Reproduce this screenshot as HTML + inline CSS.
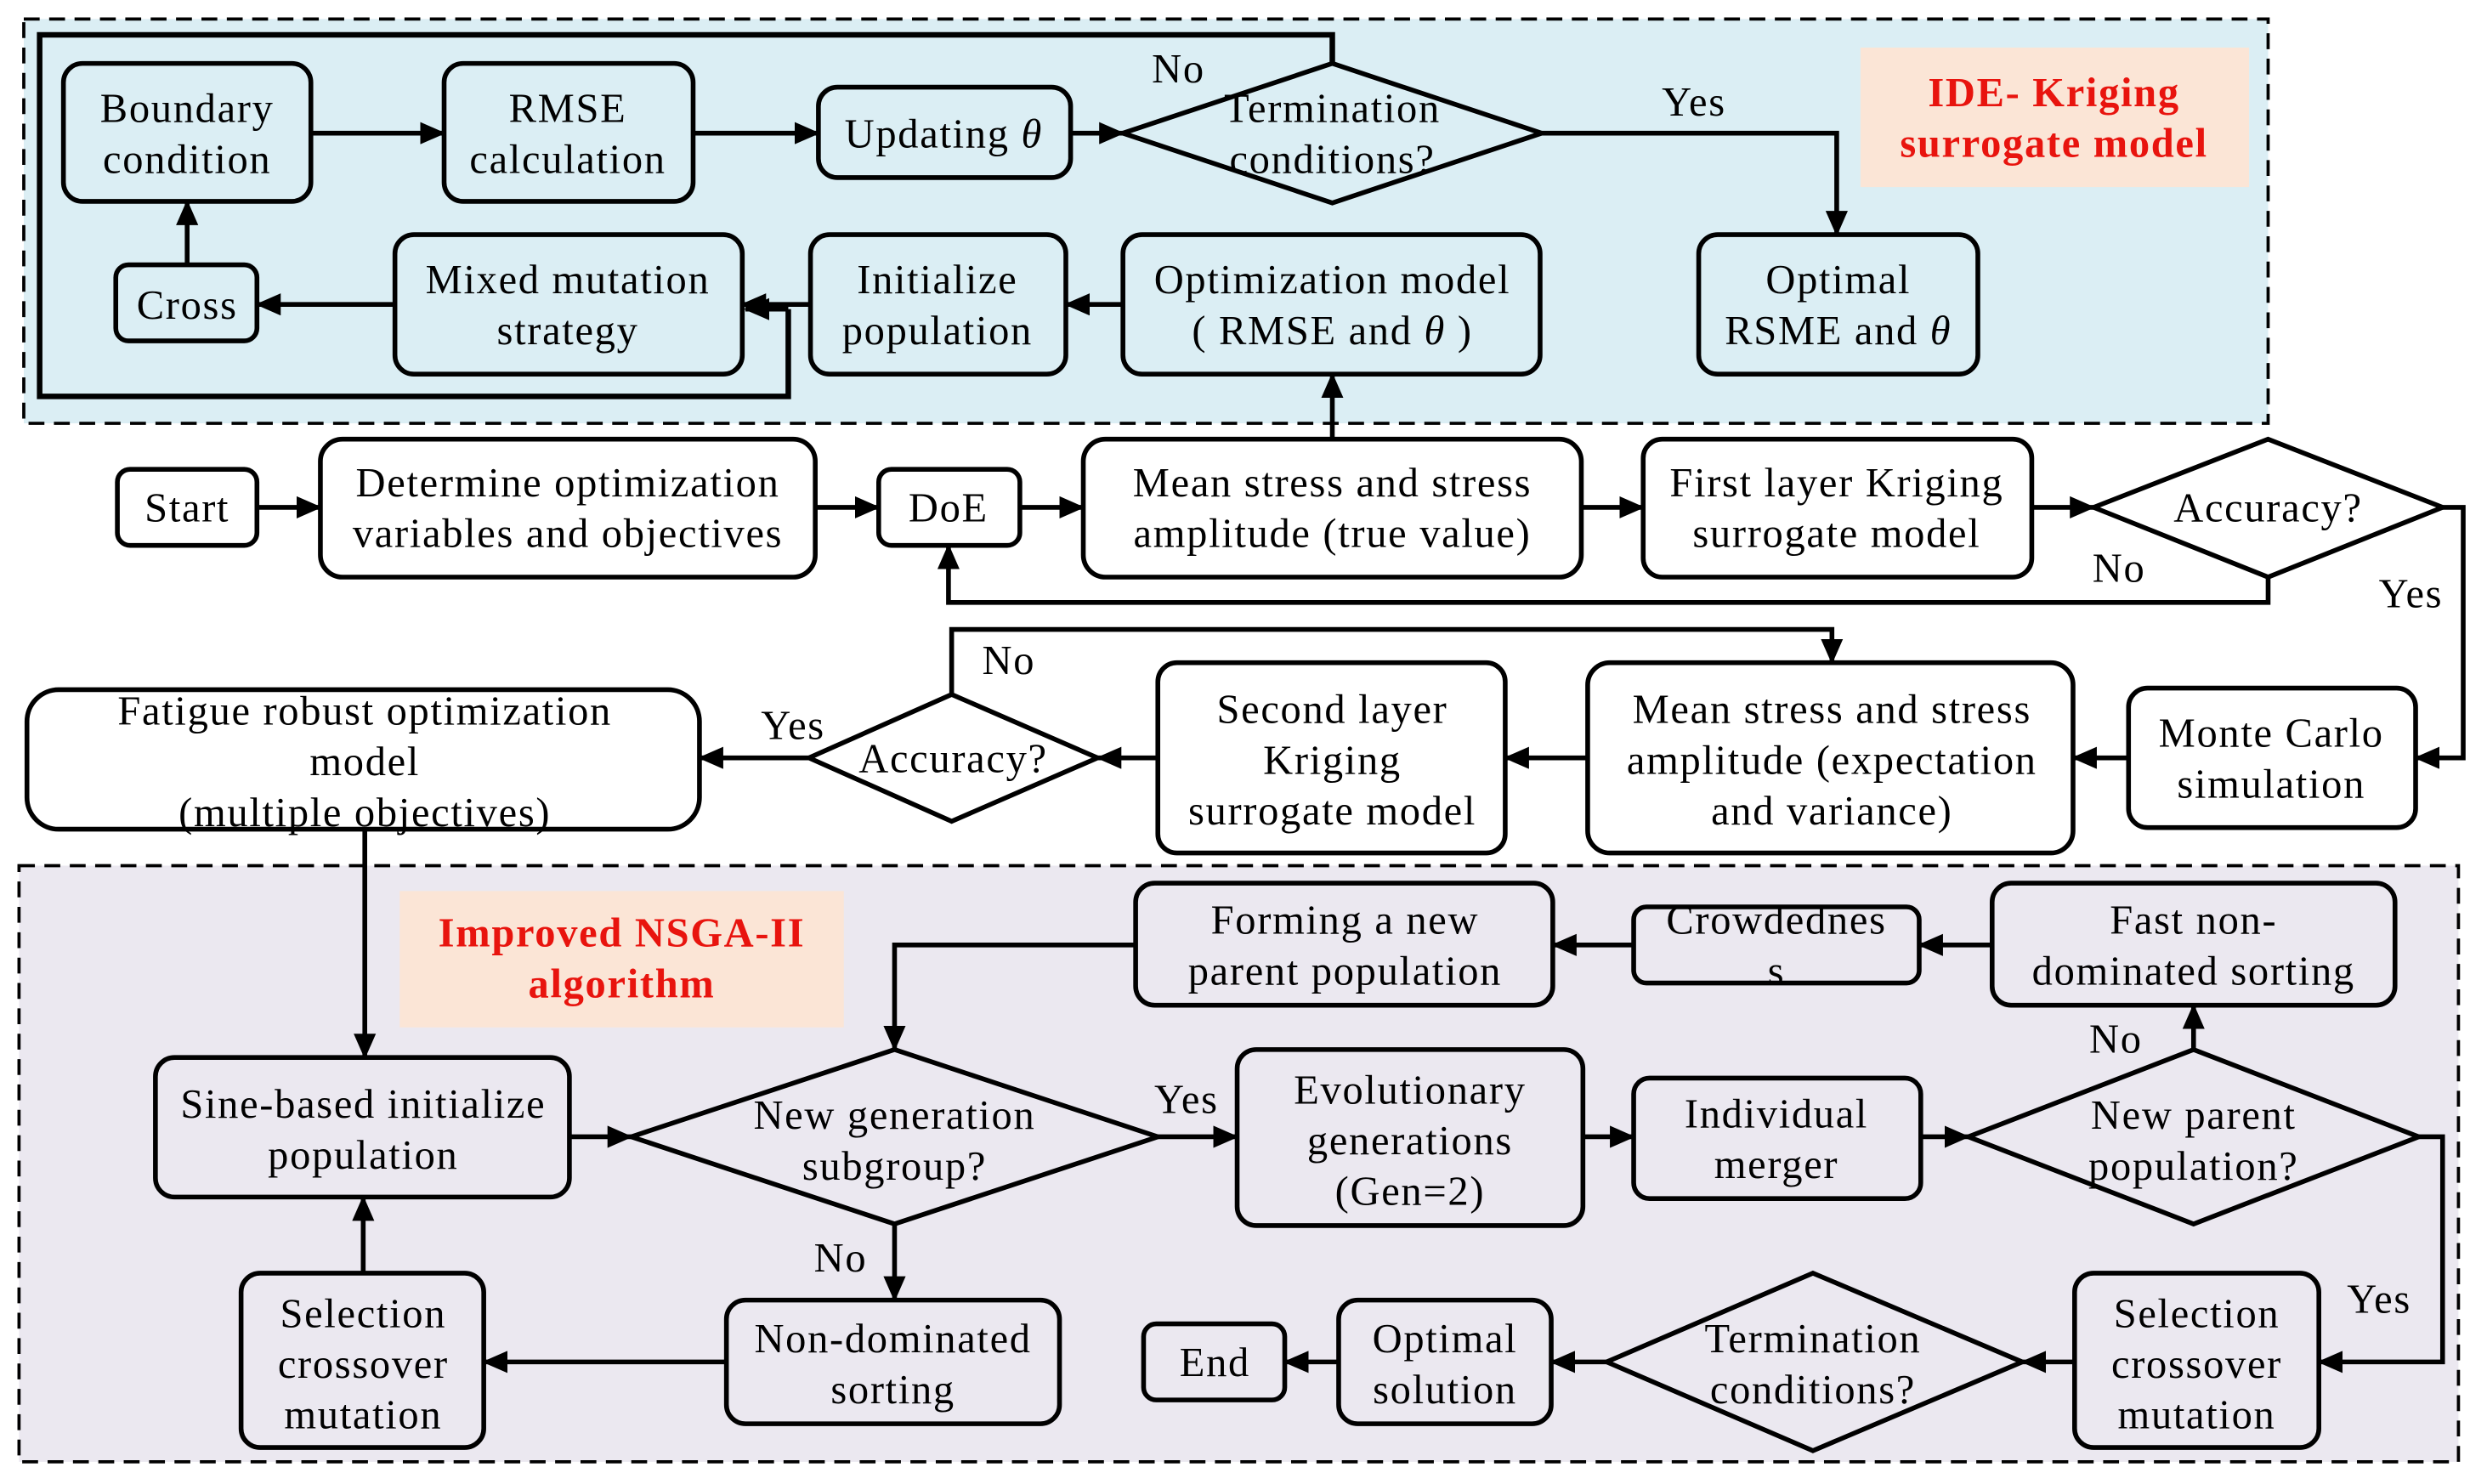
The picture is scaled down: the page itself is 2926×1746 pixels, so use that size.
<!DOCTYPE html>
<html><head><meta charset="utf-8"><style>
html,body{margin:0;padding:0;background:#fff;}
svg{display:block;}
text{font-family:"Liberation Serif",serif;font-size:26px;letter-spacing:0.9px;fill:#000;}
</style></head><body>
<svg width="2926" height="1746" viewBox="0 0 1568 936" preserveAspectRatio="none" xmlns="http://www.w3.org/2000/svg">
<defs>
<marker id="b" markerWidth="16" markerHeight="14" refX="15" refY="7" orient="auto" markerUnits="userSpaceOnUse" viewBox="0 0 16 14"><path d="M0,0L16,7L0,14z" fill="#000"/></marker></defs>
<rect x="15" y="12" width="1415" height="255" fill="#dbeef4" stroke="#000" stroke-width="2" stroke-dasharray="10,6"/>
<rect x="12" y="546" width="1538" height="376" fill="#ebe8f0" stroke="#000" stroke-width="2" stroke-dasharray="10,6"/>
<rect x="1173" y="30" width="245" height="88" fill="#fbe5d6"/>
<text x="1295" y="67" text-anchor="middle" style="fill:#e8140e;font-weight:bold">IDE- Kriging</text>
<text x="1295" y="99" text-anchor="middle" style="fill:#e8140e;font-weight:bold">surrogate model</text>
<rect x="252" y="562" width="280" height="86" fill="#fbe5d6"/>
<text x="392" y="597" text-anchor="middle" style="fill:#e8140e;font-weight:bold">Improved NSGA-II</text>
<text x="392" y="629" text-anchor="middle" style="fill:#e8140e;font-weight:bold">algorithm</text>
<g fill="none" stroke="#000" stroke-width="3">
<rect x="40" y="40" width="156" height="87" rx="12"/>
<rect x="280" y="40" width="157" height="87" rx="12"/>
<rect x="516" y="55" width="159" height="57" rx="12"/>
<path d="M708,84L840,40L972,84L840,128Z"/>
<rect x="1071" y="148" width="176" height="88" rx="12"/>
<rect x="73" y="167" width="89" height="48" rx="8"/>
<rect x="249" y="148" width="219" height="88" rx="12"/>
<rect x="511" y="148" width="161" height="88" rx="12"/>
<rect x="708" y="148" width="263" height="88" rx="12"/>
<rect x="74" y="296" width="88" height="48" rx="8"/>
<rect x="202" y="277" width="312" height="87" rx="14"/>
<rect x="554" y="296" width="89" height="48" rx="8"/>
<rect x="683" y="277" width="314" height="87" rx="14"/>
<rect x="1036" y="277" width="245" height="87" rx="12"/>
<path d="M1320,320L1430,277L1540,320L1430,364Z"/>
<rect x="1342" y="434" width="181" height="88" rx="12"/>
<rect x="1001" y="418" width="306" height="120" rx="14"/>
<rect x="730" y="418" width="219" height="120" rx="12"/>
<path d="M510,478L600,438L692,478L600,518Z"/>
<rect x="17" y="435" width="424" height="88" rx="20"/>
<rect x="98" y="667" width="261" height="88" rx="12"/>
<path d="M398,717L564,662L730,717L564,772Z"/>
<rect x="780" y="662" width="218" height="111" rx="12"/>
<rect x="1030" y="680" width="181" height="76" rx="10"/>
<path d="M1241,717L1383,662L1525,717L1383,772Z"/>
<rect x="1256" y="557" width="254" height="77" rx="12"/>
<rect x="1030" y="572" width="180" height="48" rx="8"/>
<rect x="716" y="557" width="263" height="77" rx="12"/>
<rect x="152" y="803" width="153" height="110" rx="12"/>
<rect x="458" y="820" width="210" height="78" rx="12"/>
<rect x="721" y="835" width="89" height="48" rx="8"/>
<rect x="844" y="820" width="134" height="78" rx="12"/>
<path d="M1013,859L1143,803L1275,859L1143,915Z"/>
<rect x="1308" y="803" width="154" height="110" rx="12"/>
</g>
<g fill="none" stroke="#000" stroke-width="3" marker-end="url(#b)">
<path d="M196,84H280"/><path d="M437,84H516"/><path d="M675,84H708"/>
<path d="M972,84H1158V148"/>
<path d="M118,167V127"/><path d="M249,192H162"/><path d="M511,192H468"/><path d="M708,192H672"/>
<path d="M840,277V236"/>
<path d="M162,320H202"/><path d="M514,320H554"/><path d="M643,320H683"/><path d="M997,320H1036"/><path d="M1281,320H1320"/>
<path d="M1540,320H1553V478H1523"/>
<path d="M1430,364V380H598V344"/>
<path d="M600,438V397H1155V418"/>
<path d="M1342,478H1307"/><path d="M1001,478H949"/><path d="M730,478H692"/><path d="M510,478H441"/>
<path d="M230,523V667"/>
<path d="M359,717H398"/><path d="M730,717H780"/><path d="M998,717H1030"/><path d="M1211,717H1241"/>
<path d="M1383,662V634"/><path d="M1256,596H1210"/><path d="M1030,596H979"/>
<path d="M716,596H564V662"/>
<path d="M564,772V820"/><path d="M458,859H305"/><path d="M229,803V755"/>
<path d="M1525,717H1540V859H1462"/>
<path d="M1308,859H1275"/><path d="M1013,859H978"/><path d="M844,859H810"/>
</g>
<path d="M840,40V22H25V250H497V195" fill="none" stroke="#000" stroke-width="3.5"/>
<path d="M497,195H470" fill="none" stroke="#000" stroke-width="3" marker-end="url(#b)"/>
<g text-anchor="middle">
<text x="118" y="77">Boundary</text><text x="118" y="109">condition</text>
<text x="358" y="77">RMSE</text><text x="358" y="109">calculation</text>
<text x="595" y="93">Updating <tspan font-style="italic">θ</tspan></text>
<text x="840" y="77">Termination</text><text x="840" y="109">conditions?</text>
<text x="743" y="52">No</text><text x="1068" y="73">Yes</text>
<text x="1159" y="185">Optimal</text><text x="1159" y="217">RSME and <tspan font-style="italic">θ</tspan></text>
<text x="118" y="201">Cross</text>
<text x="358" y="185">Mixed mutation</text><text x="358" y="217">strategy</text>
<text x="591" y="185">Initialize</text><text x="591" y="217">population</text>
<text x="840" y="185">Optimization model</text><text x="840" y="217">( RMSE and <tspan font-style="italic">θ</tspan> )</text>
<text x="118" y="329">Start</text>
<text x="358" y="313">Determine optimization</text><text x="358" y="345">variables and objectives</text>
<text x="598" y="329">DoE</text>
<text x="840" y="313">Mean stress and stress</text><text x="840" y="345">amplitude (true value)</text>
<text x="1158" y="313">First layer Kriging</text><text x="1158" y="345">surrogate model</text>
<text x="1430" y="329">Accuracy?</text>
<text x="1336" y="367">No</text><text x="1520" y="383">Yes</text>
<text x="1432" y="471">Monte Carlo</text><text x="1432" y="503">simulation</text>
<text x="1155" y="456">Mean stress and stress</text><text x="1155" y="488">amplitude (expectation</text><text x="1155" y="520">and variance)</text>
<text x="840" y="456">Second layer</text><text x="840" y="488">Kriging</text><text x="840" y="520">surrogate model</text>
<text x="601" y="487">Accuracy?</text>
<text x="636" y="425">No</text><text x="500" y="466">Yes</text>
<text x="230" y="457">Fatigue robust optimization</text><text x="230" y="489">model</text><text x="230" y="521">(multiple objectives)</text>
<text x="229" y="705">Sine-based initialize</text><text x="229" y="737">population</text>
<text x="564" y="712">New generation</text><text x="564" y="744">subgroup?</text>
<text x="748" y="702">Yes</text><text x="530" y="802">No</text>
<text x="889" y="696">Evolutionary</text><text x="889" y="728">generations</text><text x="889" y="760">(Gen=2)</text>
<text x="1120" y="711">Individual</text><text x="1120" y="743">merger</text>
<text x="1383" y="712">New parent</text><text x="1383" y="744">population?</text>
<text x="1334" y="664">No</text><text x="1500" y="828">Yes</text>
<text x="1383" y="589">Fast non-</text><text x="1383" y="621">dominated sorting</text>
<text x="1120" y="589">Crowdednes</text><text x="1120" y="621">s</text>
<text x="848" y="589">Forming a new</text><text x="848" y="621">parent population</text>
<text x="229" y="837">Selection</text><text x="229" y="869">crossover</text><text x="229" y="901">mutation</text>
<text x="563" y="853">Non-dominated</text><text x="563" y="885">sorting</text>
<text x="766" y="868">End</text>
<text x="911" y="853">Optimal</text><text x="911" y="885">solution</text>
<text x="1143" y="853">Termination</text><text x="1143" y="885">conditions?</text>
<text x="1385" y="837">Selection</text><text x="1385" y="869">crossover</text><text x="1385" y="901">mutation</text>
</g>
</svg>
</body></html>
